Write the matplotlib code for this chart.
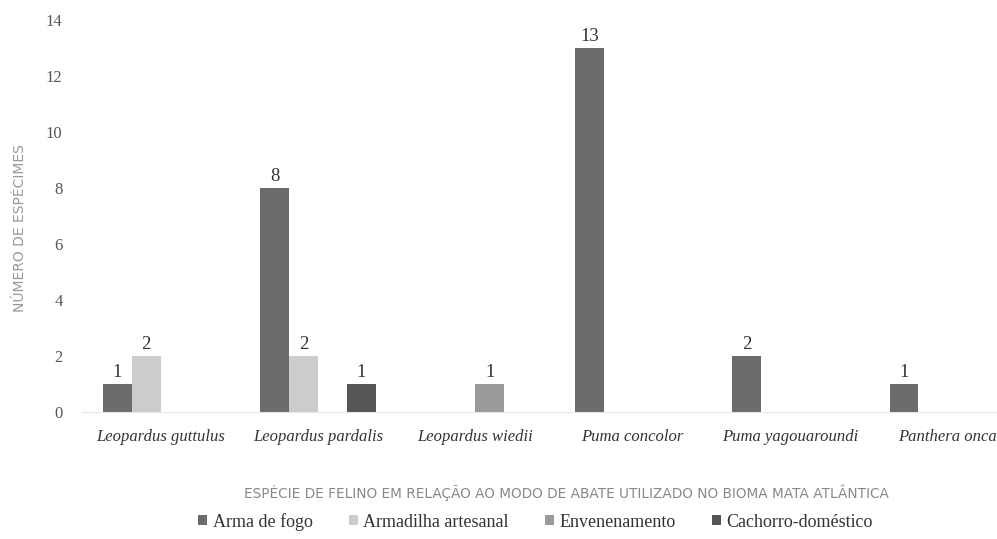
import numpy as np
import matplotlib.pyplot as plt

especies = ['Leopardus guttulus', 'Leopardus pardalis', 'Leopardus wiedii',
            'Puma concolor', 'Puma yagouaroundi', 'Panthera onca']
arma_fogo = [1, 8, 0, 13, 2, 1]
armadilha = [2, 2, 0, 0, 0, 0]
envenenamento = [0, 0, 1, 0, 0, 0]
cachorro = [0, 1, 0, 0, 0, 0]

series = [('Arma de fogo', arma_fogo, '#6b6b6b'),
          ('Armadilha artesanal', armadilha, '#cccccc'),
          ('Envenenamento', envenenamento, '#9a9a9a'),
          ('Cachorro-doméstico', cachorro, '#555555')]

serif = ['Liberation Serif', 'DejaVu Serif']
sans = ['DejaVu Sans']

fig = plt.figure(figsize=(9.97, 5.39), dpi=100)
ax = fig.add_axes([0.0822, 0.2356, 0.947, 0.7273])

x = np.arange(len(especies))
w = 0.184
for i, (nome, vals, cor) in enumerate(series):
    pos = x + (i - 1.5) * w
    bars = ax.bar(pos, vals, w, color=cor, label=nome)
    for b, v in zip(bars, vals):
        if v > 0:
            ax.text(b.get_x() + b.get_width() / 2, v + 0.1, str(v),
                    ha='center', va='bottom', fontsize=13.5,
                    family=serif, color='#333333')

ax.set_xlim(-0.5, 5.5)
ax.set_ylim(0, 14)
ax.set_yticks(range(0, 15, 2))
ax.tick_params(axis='y', length=0, pad=14, labelsize=12, labelcolor='#555555')
ax.tick_params(axis='x', length=0, pad=12)
for t in ax.get_yticklabels():
    t.set_family(serif)
ax.set_xticks(x)
ax.set_xticklabels(especies, fontsize=12, style='italic', family=serif,
                   color='#333333')

for s in ['top', 'right', 'left']:
    ax.spines[s].set_visible(False)
ax.spines['bottom'].set_color('#e6e6e6')

ax.set_ylabel('NÚMERO DE ESPÉCIMES', fontsize=10, family=sans,
              color='#999999')
ax.yaxis.set_label_coords(-0.058, 0.47)
ax.set_xlabel('ESPÉCIE DE FELINO EM RELAÇÃO AO MODO DE ABATE UTILIZADO NO BIOMA MATA ATLÂNTICA',
              fontsize=9.8, family=sans, color='#888888')
ax.xaxis.set_label_coords(0.513, -0.185)

leg = fig.legend(loc='center', bbox_to_anchor=(0.537, 0.032), ncol=4,
                 frameon=False, handlelength=0.5, handleheight=0.5,
                 handletextpad=0.3, columnspacing=2.0,
                 prop={'family': serif, 'size': 13})
for t in leg.get_texts():
    t.set_color('#333333')

fig.savefig('out.png', dpi=100)
